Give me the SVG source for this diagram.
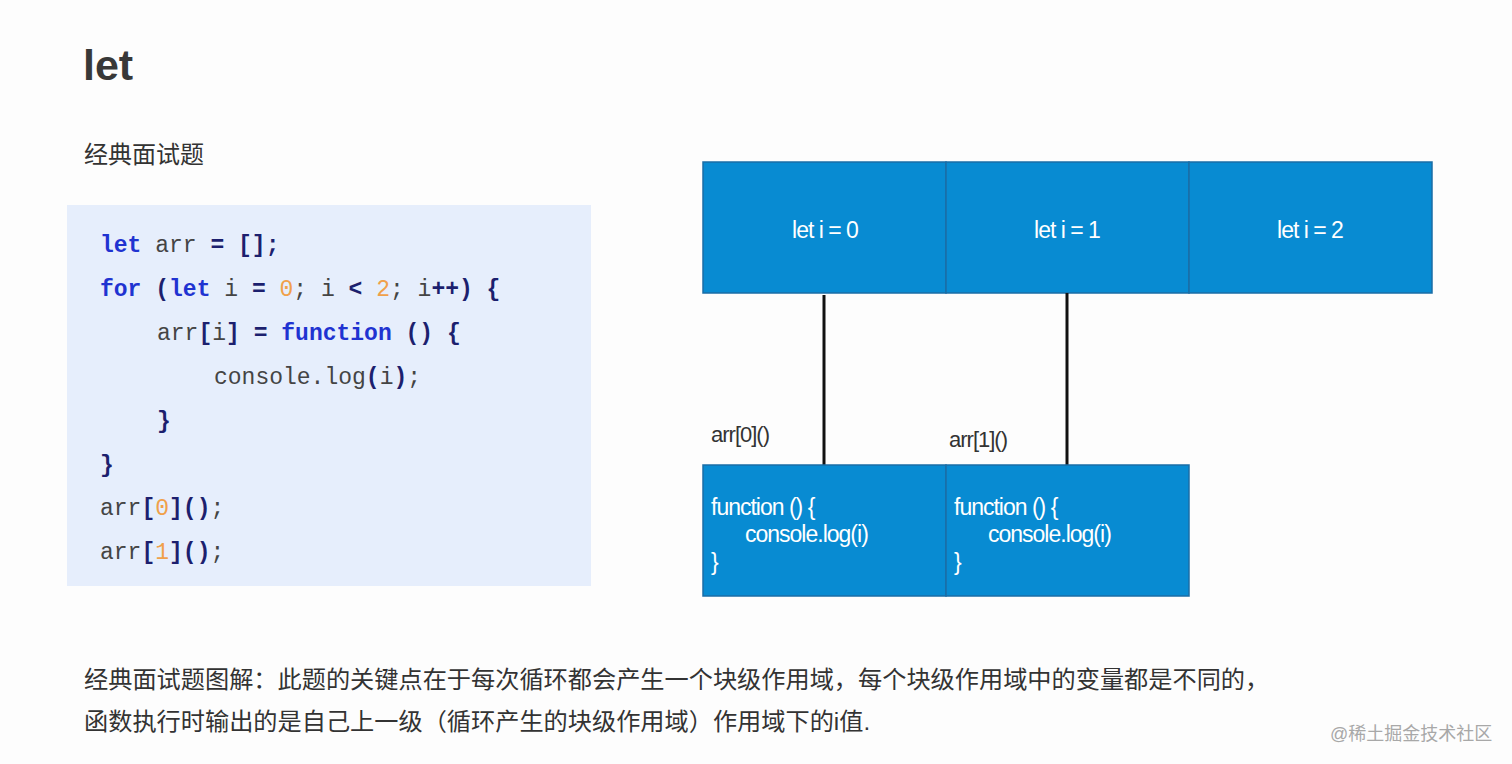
<svg xmlns="http://www.w3.org/2000/svg" width="1512" height="764" viewBox="0 0 1512 764">
<style>
.cn{font-family:"Liberation Sans","Noto Sans CJK SC",sans-serif;fill:#333}
.code{font-family:"Liberation Mono",monospace;font-size:23px;fill:#444}
.kw{fill:#1f33d1;font-weight:bold}
.pn{fill:#1c1f6e;font-weight:bold}
.nm{fill:#f0a04a}
.cell{fill:#088bd2;stroke:#1a6da6;stroke-width:1.5}
.wt{font-family:"Liberation Sans",sans-serif;font-size:23px;fill:#fff;letter-spacing:-1px}
.lbl{font-family:"Liberation Sans",sans-serif;font-size:22px;fill:#333;letter-spacing:-1px}
.conn{stroke:#111;stroke-width:3}
</style>
<rect width="1512" height="764" fill="#fdfdfd"/>
<text x="83" y="80" font-family="Liberation Sans,sans-serif" font-weight="bold" font-size="43" fill="#383838">let</text>
<text class="cn" x="84" y="163" font-size="24">经典面试题</text>
<g id="code">
<rect x="67" y="205" width="524" height="381" fill="#e6eefc"/>
<text class="code" x="100" y="252"><tspan class="kw">let</tspan> arr <tspan class="pn">= [];</tspan></text>
<text class="code" x="100" y="296"><tspan class="kw">for</tspan> <tspan class="pn">(</tspan><tspan class="kw">let</tspan> i <tspan class="pn">=</tspan> <tspan class="nm">0</tspan>; i <tspan class="pn">&lt;</tspan> <tspan class="nm">2</tspan>; i<tspan class="pn">++) {</tspan></text>
<text class="code" x="157" y="340">arr<tspan class="pn">[</tspan>i<tspan class="pn">] =</tspan> <tspan class="kw">function</tspan> <tspan class="pn">() {</tspan></text>
<text class="code" x="214" y="384">console.log<tspan class="pn">(</tspan>i<tspan class="pn">)</tspan>;</text>
<text class="code" x="157" y="428"><tspan class="pn">}</tspan></text>
<text class="code" x="100" y="472"><tspan class="pn">}</tspan></text>
<text class="code" x="100" y="515">arr<tspan class="pn">[</tspan><tspan class="nm">0</tspan><tspan class="pn">]()</tspan>;</text>
<text class="code" x="100" y="559">arr<tspan class="pn">[</tspan><tspan class="nm">1</tspan><tspan class="pn">]()</tspan>;</text>
</g>
<g id="scope0"><rect class="cell" x="703" y="162" width="243" height="131"/><text class="wt" x="825" y="238" text-anchor="middle">let i = 0</text></g>
<g id="scope1"><rect class="cell" x="946" y="162" width="243" height="131"/><text class="wt" x="1067" y="238" text-anchor="middle">let i = 1</text></g>
<g id="scope2"><rect class="cell" x="1189" y="162" width="243" height="131"/><text class="wt" x="1310" y="238" text-anchor="middle">let i = 2</text></g>
<g id="connectors">
<line class="conn" x1="824" y1="295" x2="824" y2="465"/>
<line class="conn" x1="1067" y1="293" x2="1067" y2="465"/>
</g>
<text class="lbl" x="711" y="442">arr[0]()</text>
<text class="lbl" x="949" y="447">arr[1]()</text>
<g id="fn0"><rect class="cell" x="703" y="465" width="243" height="131"/>
<text class="wt" x="711" y="515">function () {</text>
<text class="wt" x="745" y="542">console.log(i)</text>
<text class="wt" x="711" y="570">}</text></g>
<g id="fn1"><rect class="cell" x="946" y="465" width="243" height="131"/>
<text class="wt" x="954" y="515">function () {</text>
<text class="wt" x="988" y="542">console.log(i)</text>
<text class="wt" x="954" y="570">}</text></g>
<text class="cn" x="84" y="688" font-size="24.2">经典面试题图解：此题的关键点在于每次循环都会产生一个块级作用域，每个块级作用域中的变量都是不同的，</text>
<text class="cn" x="84" y="730" font-size="24.2">函数执行时输出的是自己上一级（循环产生的块级作用域）作用域下的i值.</text>
<text x="1330" y="740" font-family="Liberation Sans,Noto Sans CJK SC,sans-serif" font-size="18" fill="#a8a8a8">@稀土掘金技术社区</text>
</svg>
